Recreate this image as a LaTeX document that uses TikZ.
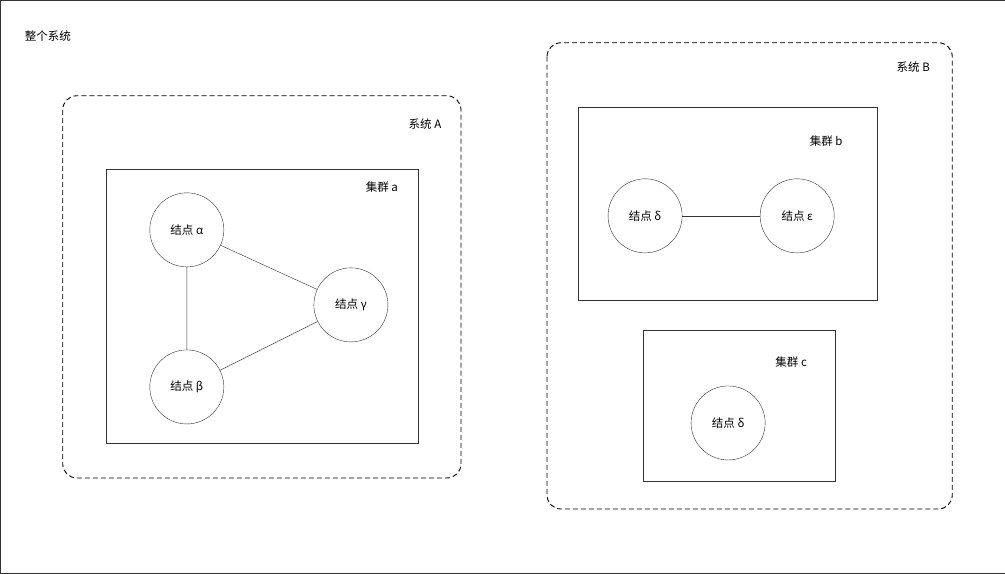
\documentclass[tikz,border=0pt]{standalone}
\usepackage{fontspec}
\setmainfont{Noto Sans CJK SC}
\begin{document}
\begin{tikzpicture}[x=1pt,y=-1pt,font=\fontsize{11.5}{13}\selectfont,
  sys/.style={draw=black,line width=0.9pt,dash pattern=on 5pt off 3pt,rounded corners=14pt},
  clu/.style={draw=black!80},
  nd/.style={draw=black!80,circle,minimum size=74pt,inner sep=0pt},
  lbl/.style={inner sep=0pt}]
\draw[black!80] (0.5,0.5) rectangle (1004.5,573.5);
\node[lbl,anchor=west] (t0) at (25,36) {整个系统};
\draw[sys] (63,96) rectangle (461,478);
\node[lbl] (tA) at (425,124) {系统 A};
\draw[clu] (106,169) rectangle (418,443);
\node[lbl] (ta) at (382,187) {集群 a};
\node[nd] (al) at (187,230) {结点 α};
\node[nd] (ga) at (351,305) {结点 γ};
\node[nd] (be) at (187,387) {结点 β};
\draw[black!80] (al)--(ga) (al)--(be) (be)--(ga);
\draw[sys] (547,43) rectangle (952,509);
\node[lbl] (tB) at (913,67) {系统 B};
\draw[clu] (578,107) rectangle (877,300);
\node[lbl] (tb) at (826,141) {集群 b};
\node[nd] (d1) at (645,216) {结点 δ};
\node[nd] (ep) at (797,216) {结点 ε};
\draw[black!80] (d1)--(ep);
\draw[clu] (643,330) rectangle (835,481);
\node[lbl] (tc) at (791,362) {集群 c};
\node[nd] (d2) at (728,423) {结点 δ};
\end{tikzpicture}
\end{document}
